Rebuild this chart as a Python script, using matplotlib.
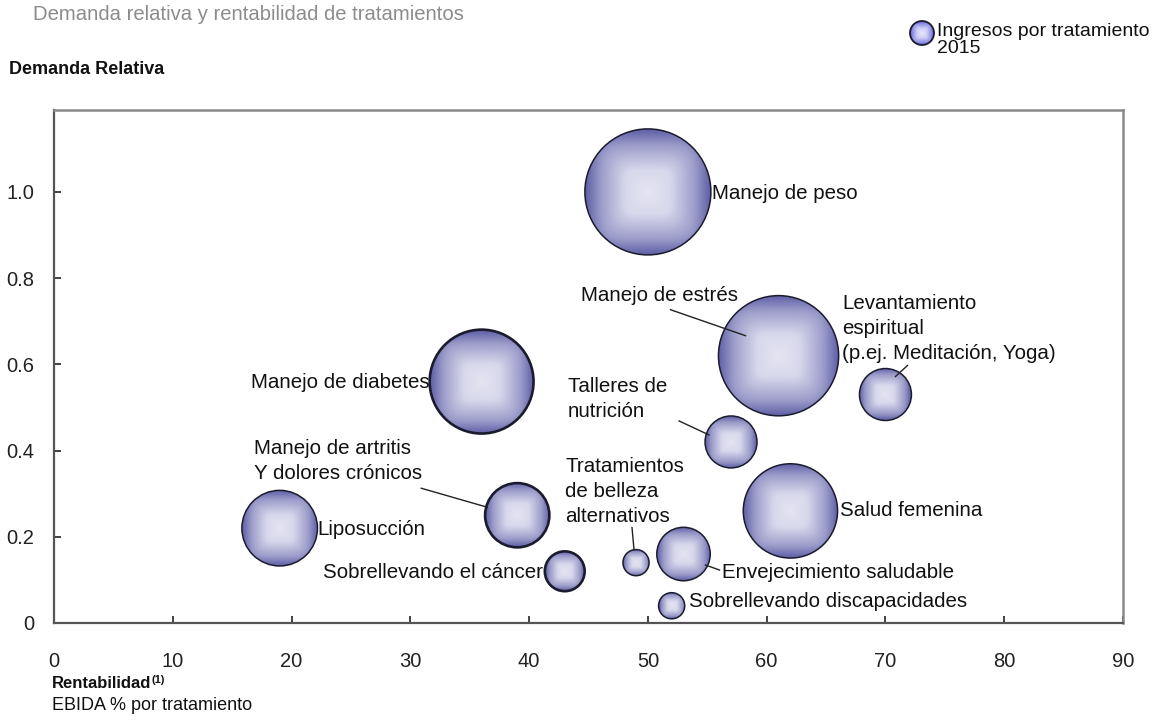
import numpy as np
import matplotlib
matplotlib.use("Agg")
import matplotlib.pyplot as plt
from matplotlib.patches import Ellipse
from matplotlib.colors import LinearSegmentedColormap

plt.rcParams['font.family'] = ['Liberation Sans', 'DejaVu Sans']

# ---- data ----
treatments = [
    "Manejo de peso", "Manejo de estrés",
    "Levantamiento\nespiritual\n(p.ej. Meditación, Yoga)",
    "Manejo de diabetes", "Talleres de\nnutrición", "Salud femenina",
    "Liposucción", "Manejo de artritis\nY dolores crónicos",
    "Sobrellevando el cáncer", "Tratamientos\nde belleza\nalternativos",
    "Envejecimiento saludable", "Sobrellevando discapacidades",
]
profitability = [50, 61, 70, 36, 57, 62, 19, 39, 43, 49, 53, 52]          # EBIDA %
relative_demand = [1.00, 0.62, 0.53, 0.56, 0.42, 0.26, 0.22, 0.25, 0.12, 0.14, 0.16, 0.04]
revenue_2015 = [100, 91, 17, 68, 17, 56, 36, 26, 10, 4.3, 18, 4.3]       # relative revenue

x_ticks = [0, 10, 20, 30, 40, 50, 60, 70, 80, 90]
y_ticks = [0, 0.2, 0.4, 0.6, 0.8, 1.0]
y_tick_labels = ["0", "0.2", "0.4", "0.6", "0.8", "1.0"]

# ---- label layout (pixel offsets from bubble centre, y up) ----
label_layout = [
    ((64, -2), "left"), ((-119, 60), "center"), ((-43, 66), "left"),
    ((-52, -1), "right"), ((-163, 43), "left"), ((50, 0), "left"),
    ((38, -1), "left"), ((-263, 54), "left"), ((-22, -1), "right"),
    ((-71, 71), "left"), ((38, -18), "left"), ((17, 4), "left"),
]
leaders = {
    1: ((-108, 46), (-33, 20)),
    2: ((22, 29), (10, 18)),
    4: ((-52, 21), (-22, 7)),
    7: ((-96, 27), (-30, 8)),
    9: ((-4, 35), (-2, 13)),
    10: ((22, -11), (36, -16)),
}
thick_edges = {3, 7, 8}

W, H, DPI = 11.61, 7.24, 100
fig = plt.figure(figsize=(W, H), dpi=DPI)
ax_rect = [54 / 1161, 1 - 623 / 724, (1123 - 54) / 1161, (623 - 110) / 724]
ax = fig.add_axes(ax_rect)
XMAX, YMAX = 90, 1.19
ax.set_xlim(0, XMAX)
ax.set_ylim(0, YMAX)

px_x = ax_rect[2] * W * DPI / XMAX
px_y = ax_rect[3] * H * DPI / YMAX

# pillow-shaded fill (softened square distance)
n = 200
u = np.linspace(-1, 1, n)
U, V = np.meshgrid(u, u)
T = (np.abs(U) ** 5 + np.abs(V) ** 5) ** (1 / 5)
cmap = LinearSegmentedColormap.from_list(
    "pillow", [(0.0, "#e4e4f2"), (0.35, "#d8d8ec"), (0.75, "#9c9cca"), (1.0, "#5e5ea6")])

def bubble(axis, cx, cy, r_px, sx, sy, lw, cm=cmap, z=2):
    w = r_px / sx
    h = r_px / sy
    im = axis.imshow(T, cmap=cm, vmin=0, vmax=1, extent=[cx - w, cx + w, cy - h, cy + h],
                     aspect="auto", interpolation="bilinear", zorder=z, origin="lower")
    clip = Ellipse((cx, cy), 2 * w, 2 * h, transform=axis.transData, facecolor="none",
                   edgecolor="none")
    axis.add_patch(clip)
    im.set_clip_path(clip)
    axis.add_patch(Ellipse((cx, cy), 2 * w, 2 * h, facecolor="none", edgecolor="#1b1b2e",
                           linewidth=lw, zorder=z + 1))

K = 6.3  # pixels of radius per sqrt(revenue)
for i, (x, y, rev) in enumerate(zip(profitability, relative_demand, revenue_2015)):
    r = K * np.sqrt(rev)
    bubble(ax, x, y, r, px_x, px_y, 1.9 if i in thick_edges else 1.1)
    (dx, dy), ha = label_layout[i]
    ax.annotate(treatments[i], xy=(x, y), xytext=(dx, dy), textcoords="offset pixels",
                ha=ha, va="center", fontsize=14.8, color="#111111", zorder=5,
                linespacing=1.42)
    if i in leaders:
        (sx0, sy0), (sx1, sy1) = leaders[i]
        ax.plot([x + sx0 / px_x, x + sx1 / px_x], [y + sy0 / px_y, y + sy1 / px_y],
                color="#222222", lw=1.0, zorder=4)

ax.set_xticks(x_ticks)
ax.set_yticks(y_ticks)
ax.set_yticklabels(y_tick_labels)
ax.tick_params(direction="in", length=5, width=1.2, color="#222222", labelsize=14.5,
               labelcolor="#222222")
ax.tick_params(axis="y", pad=14)
ax.tick_params(axis="x", pad=21)
for side in ["left", "bottom"]:
    ax.spines[side].set_color("#555555")
    ax.spines[side].set_linewidth(1.6)
for side in ["top", "right"]:
    ax.spines[side].set_color("#8a8a8a")
    ax.spines[side].set_linewidth(1.8)

fig.text(33 / 1161, 1 - 15 / 724, "Demanda relativa y rentabilidad de tratamientos",
         fontsize=14.6, color="#8c8c8c", ha="left", va="center")
fig.text(9 / 1161, 1 - 70 / 724, "Demanda Relativa", fontsize=13, fontweight="bold",
         color="#111111", ha="left", va="center")
fig.text(52 / 1161, 1 - 684 / 724, "Rentabilidad", fontsize=12, fontweight="bold",
         color="#111111", ha="left", va="center")
fig.text(152 / 1161, 1 - 680 / 724, "(1)", fontsize=8, fontweight="bold",
         color="#111111", ha="left", va="center")
fig.text(52 / 1161, 1 - 705 / 724, "EBIDA % por tratamiento", fontsize=13,
         color="#111111", ha="left", va="center")

# legend marker
lax = fig.add_axes([(922 - 14) / 1161, 1 - (33 + 14) / 724, 28 / 1161, 28 / 724])
lax.set_xlim(-14, 14)
lax.set_ylim(-14, 14)
lax.axis("off")
leg_cmap = LinearSegmentedColormap.from_list(
    "pillow_leg", [(0.0, "#e8e8fb"), (0.4, "#cfcff5"), (0.8, "#8a8ae6"), (1.0, "#5c5cd0")])
bubble(lax, 0, 0, 12, 1, 1, 1.3, cm=leg_cmap)
fig.text(937 / 1161, 1 - 40 / 724, "Ingresos por tratamiento\n2015", fontsize=14,
         color="#111111", ha="left", va="center", linespacing=1.05)

fig.savefig("out.png", dpi=DPI)
